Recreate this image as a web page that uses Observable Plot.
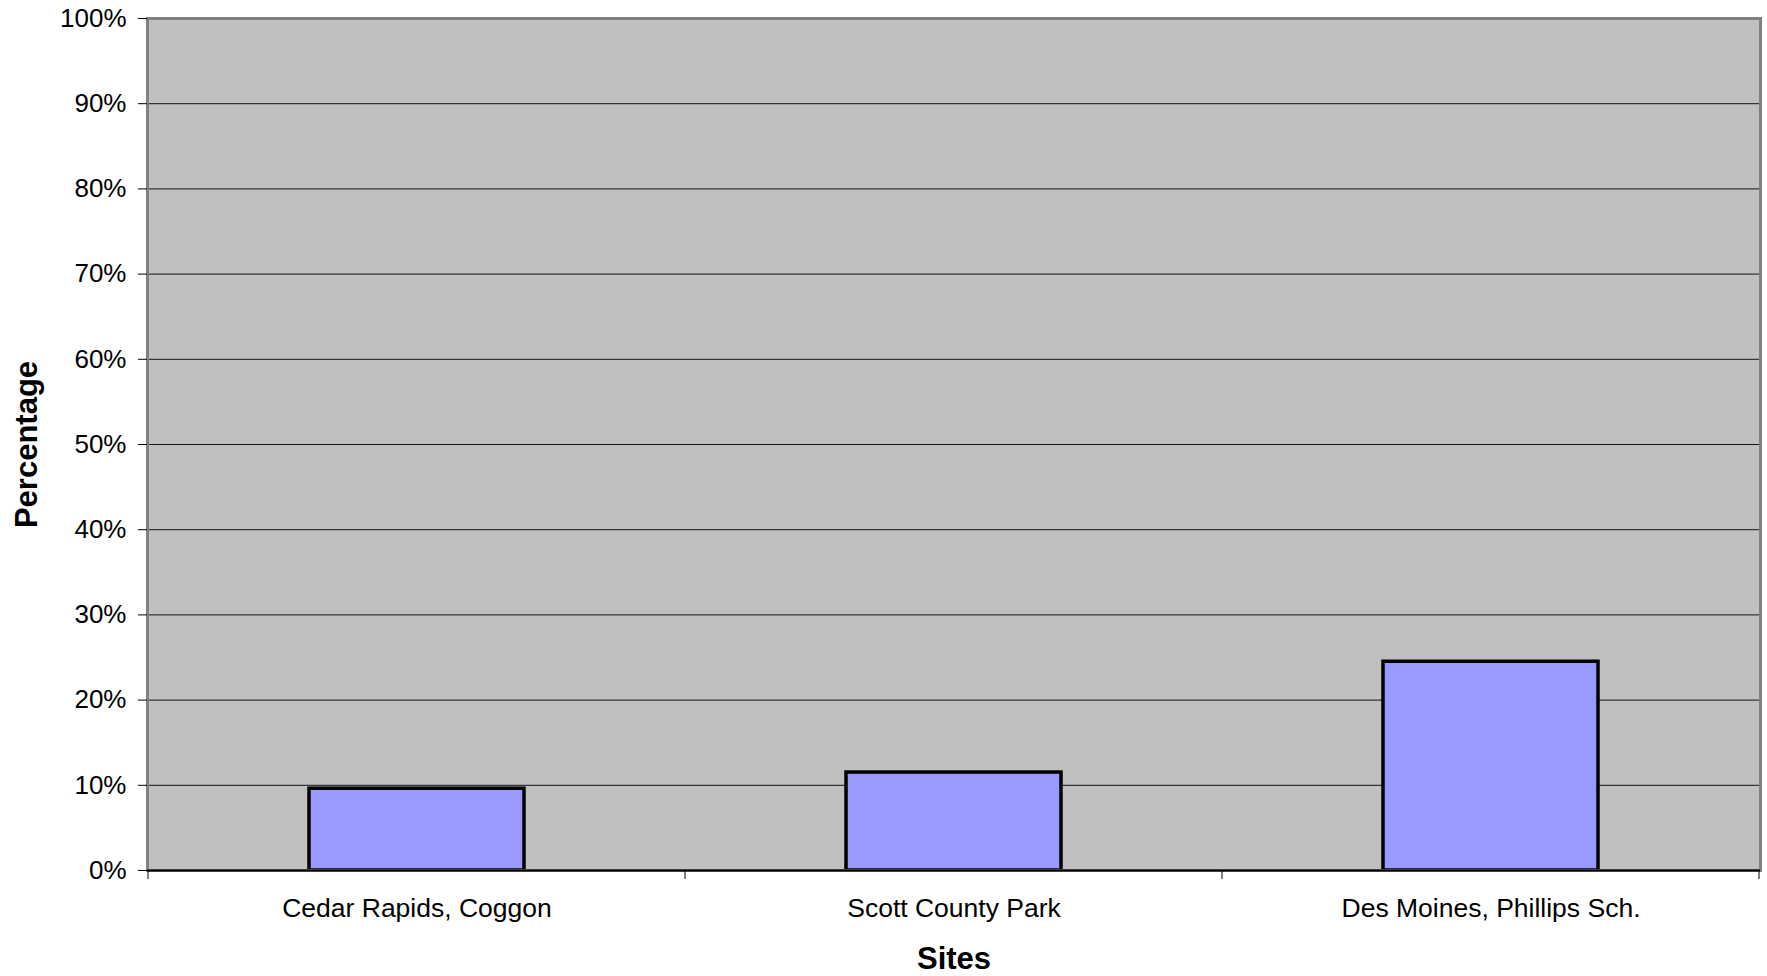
<!DOCTYPE html>
<html>
<head>
<meta charset="utf-8">
<script src="https://cdn.jsdelivr.net/npm/d3@7"></script>
<script src="https://cdn.jsdelivr.net/npm/@observablehq/plot@0.6"></script>
<style>
  html, body { margin: 0; padding: 0; background: #ffffff; }
  #chart svg { display: block; }
</style>
</head>
<body>
<div id="chart"></div>
<script>
// ---- data ----
const sites = ["Cedar Rapids, Coggon", "Scott County Park", "Des Moines, Phillips Sch."];
const percentages = [0.096, 0.115, 0.245];
const yTicks = [0, 0.1, 0.2, 0.3, 0.4, 0.5, 0.6, 0.7, 0.8, 0.9, 1.0];
const xTitle = "Sites";
const yTitle = "Percentage";

const data = sites.map((s, i) => ({site: s, pct: percentages[i]}));
const pctFormat = d3.format(".0%");

const plot = Plot.plot({
  width: 1767,
  height: 976,
  marginLeft: 147,
  marginRight: 7,
  marginTop: 18,
  marginBottom: 106,
  style: {
    fontFamily: "'Liberation Sans', Arial, sans-serif",
    fontSize: "26px",
    background: "#ffffff",
    color: "#000000"
  },
  x: {domain: sites, paddingInner: 0.6, paddingOuter: 0.3, label: null},
  y: {domain: [0, 1], label: null},
  marks: [
    Plot.frame({fill: "#C0C0C0", stroke: null}),
    Plot.gridY(yTicks.filter(d => d > 0 && d < 1), {stroke: "#000000", strokeOpacity: 0.9, strokeWidth: 1}),
    Plot.barY(data, {x: "site", y: "pct", fill: "#9999FF", stroke: "#000000", strokeWidth: 3.5}),
    Plot.frame({stroke: "#808080", strokeWidth: 3, fill: null}),
    Plot.ruleY([0], {stroke: "#000000", strokeWidth: 2}),
    Plot.axisY({ticks: yTicks, tickFormat: pctFormat, tickSize: 9, tickPadding: 12, label: null, fontSize: 26, stroke: "#000000"}),
    Plot.axisX({tickSize: 0, tickPadding: 28, label: null, fontSize: 26.5}),
    Plot.text([xTitle], {frameAnchor: "bottom", dy: 98, lineAnchor: "bottom", fontWeight: "bold", fontSize: 31}),
    Plot.text([yTitle], {frameAnchor: "left", dx: -120, rotate: -90, textAnchor: "middle", lineAnchor: "middle", fontWeight: "bold", fontSize: 31})
  ]
});

document.getElementById("chart").appendChild(plot);

// category boundary tick marks below the x axis, positioned from Plot's own scales
const xs = plot.scale("x");
const ys = plot.scale("y");
const step = xs.step;
const gap = (xs.step - xs.bandwidth) / 2;
const bounds = xs.domain.map(d => xs.apply(d) - gap);
bounds.push(bounds[bounds.length - 1] + step);
const y0 = ys.apply(0);
d3.select(plot).append("g")
  .attr("stroke", "#000000")
  .attr("stroke-width", 1)
  .selectAll("line")
  .data(bounds)
  .join("line")
  .attr("x1", d => d).attr("x2", d => d)
  .attr("y1", y0).attr("y2", y0 + 9);
</script>
</body>
</html>
